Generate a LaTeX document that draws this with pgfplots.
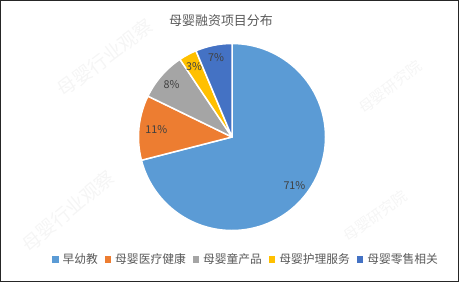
\documentclass[border=0pt]{standalone}
\usepackage{pgfplots}
\pgfplotsset{compat=1.18}
\usepackage{pgfplotstable}
\usepackage{fontspec}
\setmainfont{Noto Sans CJK SC}
\definecolor{c0}{HTML}{5B9BD5}
\definecolor{c1}{HTML}{ED7D31}
\definecolor{c2}{HTML}{A5A5A5}
\definecolor{c3}{HTML}{FFC000}
\definecolor{c4}{HTML}{4472C4}
\definecolor{lbl}{HTML}{404040}
\definecolor{txt}{HTML}{595959}
\definecolor{wm}{HTML}{F5F5F5}

\pgfplotstableread{
value
71.0
11.2
8.4
3.1
6.3
}\piedata

\begin{document}
\begin{tikzpicture}
\def\cum{0}
\pgfplotsforeachungrouped \i in {0,...,4}{%
  \pgfplotstablegetelem{\i}{value}\of\piedata
  \pgfmathsetmacro\sA{90-3.6*\cum}%
  \pgfmathsetmacro\cumnew{\cum+\pgfplotsretval}%
  \pgfmathsetmacro\sB{90-3.6*\cumnew}%
  \pgfmathsetmacro\sM{(\sA+\sB)/2}%
  \expandafter\xdef\csname sA\i\endcsname{\sA}%
  \expandafter\xdef\csname sB\i\endcsname{\sB}%
  \expandafter\xdef\csname sM\i\endcsname{\sM}%
  \xdef\cum{\cumnew}%
}
\begin{axis}[
  x=1bp, y=1bp,
  xmin=0, xmax=459, ymin=0, ymax=282,
  enlargelimits=false,
  hide axis,
  legend style={at={(axis cs:245,23)}, anchor=center, draw=none, fill=none,
    font=\fontsize{11.8}{14}\selectfont, text=txt, legend columns=-1,
    /tikz/every odd column/.append style={column sep=4.5bp},
    /tikz/every even column/.append style={column sep=7bp},
    nodes={inner sep=0pt}},
  legend cell align=left,
  legend image code/.code={\fill[#1] (0bp,-2.75bp) rectangle (5.5bp,2.75bp);},
]
% watermarks
\node[rotate=37, text=wm, font=\fontsize{19}{22}\selectfont] at (axis cs:105,224) {母婴行业观察};
\node[rotate=40, text=wm, font=\fontsize{19}{22}\selectfont] at (axis cs:68,71) {母婴行业观察};
\node[rotate=38, text=wm, font=\fontsize{15}{18}\selectfont] at (axis cs:390,195) {母婴研究院};
\node[rotate=36, text=wm, font=\fontsize{15}{18}\selectfont] at (axis cs:375,66) {母婴研究院};
% pie slices
\pgfplotsinvokeforeach{0,...,4}{%
  \fill[c#1, draw=white, line width=1.5bp, line join=round] (axis cs:232,145) -- ++(\csname sA#1\endcsname:93.5bp) arc[start angle=\csname sA#1\endcsname, end angle=\csname sB#1\endcsname, radius=93.5bp] -- cycle;
}
% labels
\path (axis cs:232,145) ++(\csname sM0\endcsname:79bp) node[text=lbl, font=\fontsize{10.8}{12}\selectfont] {71\%};
\path (axis cs:232,145) ++(\csname sM1\endcsname:76bp) node[text=lbl, font=\fontsize{10.8}{12}\selectfont] {11\%};
\path (axis cs:232,145) ++(\csname sM2\endcsname:80bp) node[text=lbl, font=\fontsize{10.8}{12}\selectfont] {8\%};
\path (axis cs:232,145) ++(\csname sM3\endcsname:80bp) node[text=lbl, font=\fontsize{10.8}{12}\selectfont] {3\%};
\path (axis cs:232,145) ++(\csname sM4\endcsname:81bp) node[text=lbl, font=\fontsize{10.8}{12}\selectfont] {7\%};
% title
\node[text=txt, font=\fontsize{13}{15}\selectfont] at (axis cs:221,261.3) {母婴融资项目分布};
% frame
\draw[black!85, line width=1.2bp] (axis cs:0.6,0.6) rectangle (axis cs:458.4,281.4);
\addlegendimage{c0}
\addlegendimage{c1}
\addlegendimage{c2}
\addlegendimage{c3}
\addlegendimage{c4}
\legend{早幼教,母婴医疗健康,母婴童产品,母婴护理服务,母婴零售相关}
\end{axis}
\end{tikzpicture}
\end{document}
